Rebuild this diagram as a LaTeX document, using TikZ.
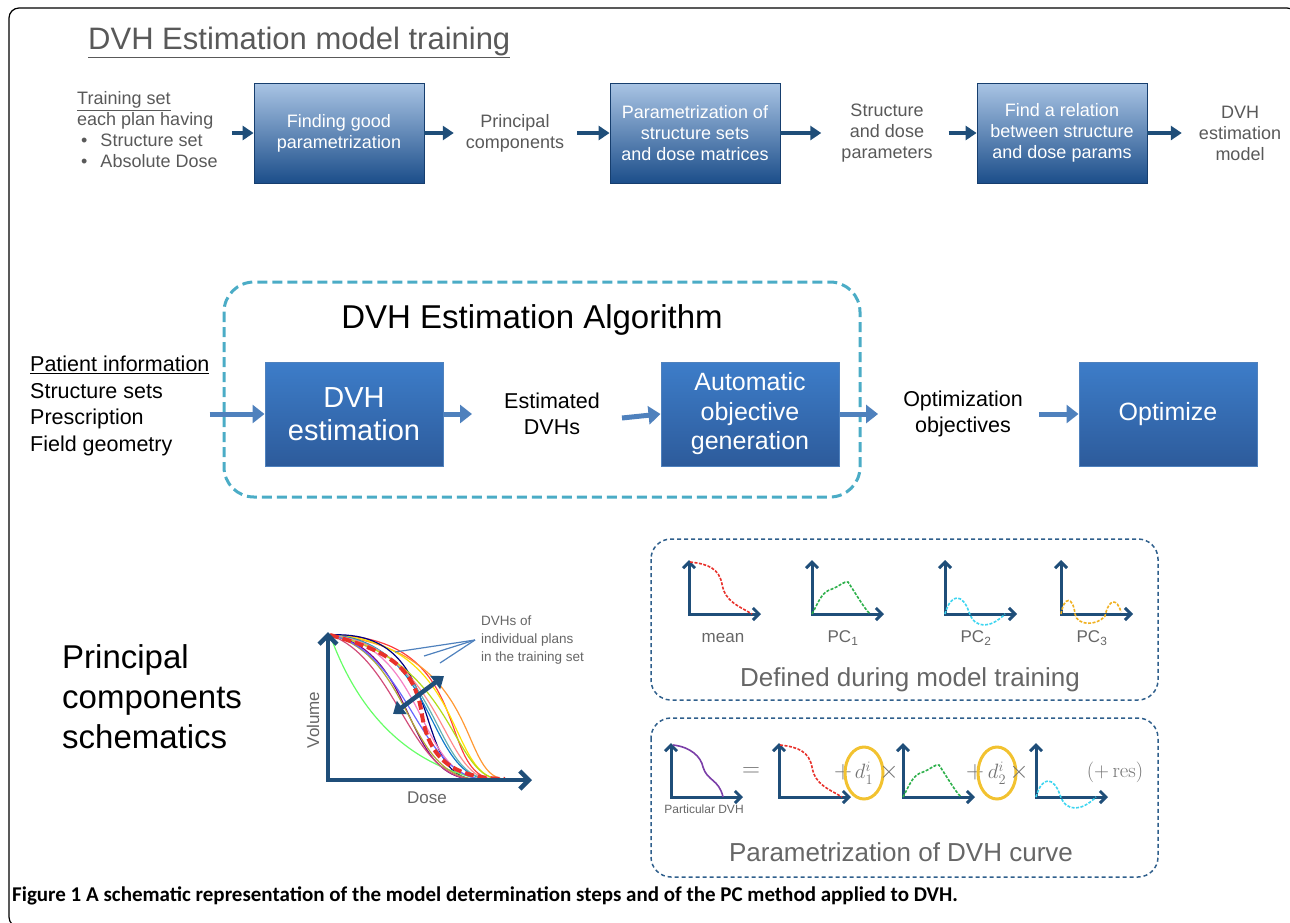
\documentclass[tikz,border=0pt]{standalone}
\usepackage[no-math]{fontspec}
\setmainfont{Liberation Sans}
\newfontfamily\capfont{Carlito}
\usetikzlibrary{arrows.meta,shapes.geometric}
\definecolor{topgray}{HTML}{595959}
\definecolor{navy}{HTML}{1F4E79}
\definecolor{toplight}{HTML}{A9C4E4}
\definecolor{topdark}{HTML}{1C4E8A}
\definecolor{midlight}{HTML}{3D7DC9}
\definecolor{middark}{HTML}{2D5B9B}
\definecolor{midblue}{HTML}{4F81BD}
\definecolor{algcyan}{HTML}{4BACC6}
\definecolor{boxdash}{HTML}{2F5F8C}
\definecolor{circyellow}{HTML}{F2C230}
\definecolor{pcred}{HTML}{E8312B}
\definecolor{pcgreen}{HTML}{2DB04B}
\definecolor{pccyan}{HTML}{3DD5F0}
\definecolor{pcorange}{HTML}{F0B020}
\definecolor{pcpurple}{HTML}{7B3FA8}
\tikzset{
  toptext/.style={text=topgray, font=\fontsize{18}{21}\selectfont, align=center, inner sep=0pt},
  topbox/.style={draw=topdark!80!black, line width=0.8pt, top color=toplight, bottom color=topdark,
    minimum width=170pt, minimum height=100pt, text=white, align=center, font=\fontsize{18}{21}\selectfont},
  toparrow/.style={navy, line width=3.5pt, -{Triangle[length=11pt,width=14pt]}},
  midtext/.style={font=\fontsize{21.5}{26.5}\selectfont, align=center, inner sep=0pt},
  midbox/.style={draw=midblue, line width=1pt, top color=midlight, bottom color=middark,
    minimum width=178pt, minimum height=104pt, text=white, align=center},
  midarrow/.style={midblue, line width=5pt, -{Triangle[length=12pt,width=18pt]}},
  pcdash/.style={boxdash, line width=1.5pt, dash pattern=on 4pt off 3pt, rounded corners=20pt},
  axis/.style={navy, line width=4.5pt, {Straight Barb[length=9pt,width=18pt]}-{Straight Barb[length=9pt,width=18pt]}},
  miniaxis/.style={navy, line width=3pt, {Straight Barb[length=6pt,width=12pt]}-{Straight Barb[length=6pt,width=12pt]}},
  minicurve/.style={line width=1.6pt, dash pattern=on 3pt off 1.5pt},
  graytext/.style={text=black!60, inner sep=0pt},
  mathsign/.style={text=black!55, inner sep=0pt, font=\fontsize{26}{26}\selectfont},
  coeff/.style={draw=circyellow, line width=3pt, ellipse, minimum width=38pt, minimum height=52pt,
    inner sep=0pt, text=black!55, font=\fontsize{22}{22}\selectfont},
}
\def\miniaxes(#1,#2){\draw[miniaxis] (#1,#2-54) -- (#1,#2) -- (#1+72,#2);}

\begin{document}
\begin{tikzpicture}[x=1pt,y=-1pt]
  %%%%% FRAME %%%%%
  \useasboundingbox (0,0) rectangle (1290,922);
  \draw[line width=1.2pt, rounded corners=10pt] (1297,927) -- (1297,8) -- (9,8) -- (9,927) -- cycle;

  %%%%% MODEL TRAINING %%%%%
  \node[text=topgray, inner sep=0pt, anchor=base west, font=\fontsize{31}{31}\selectfont] (title) at (88,49) {\underline{DVH Estimation model training}};

  \node[toptext, anchor=west, align=left] (trainset) at (77,130)
    {\underline{Training set}\\each plan having\\\hspace*{4pt}\textbullet\hspace{13pt}Structure set\\\hspace*{4pt}\textbullet\hspace{13pt}Absolute Dose};
  \node[topbox] (findparam) at (339,133) {Finding good\\parametrization};
  \node[toptext] (princomp) at (515,133) {Principal\\components};
  \node[topbox] (paramsets) at (695,133) {Parametrization of\\structure sets\\and dose matrices};
  \node[toptext] (structdose) at (887,133) {Structure\\and dose\\parameters};
  \node[topbox] (findrel) at (1062,133) {Find a relation\\between structure\\and dose params};
  \node[toptext] (dvhmodel) at (1240,133) {DVH\\estimation\\model};

  \draw[toparrow, shorten <=14pt] (trainset.east |- findparam.west) -- (findparam.west);
  \draw[toparrow, shorten >=12pt] (findparam.east) -- (princomp.west);
  \draw[toparrow, shorten <=13pt] (princomp.east) -- (paramsets.west);
  \draw[toparrow, shorten >=20pt] (paramsets.east) -- (structdose.west);
  \draw[toparrow, shorten <=16pt] (structdose.east) -- (findrel.west);
  \draw[toparrow, shorten >=17pt] (findrel.east) -- (dvhmodel.west);

  %%%%% ALGORITHM %%%%%
  \draw[algcyan, line width=3pt, dash pattern=on 10pt off 5pt, rounded corners=30pt] (224,282) rectangle (860,497);
  \node[inner sep=0pt, font=\fontsize{33}{33}\selectfont] (algtitle) at (532,320) {DVH Estimation Algorithm};

  \node[midtext, anchor=west, align=left] (patinfo) at (30,406)
    {\underline{Patient information}\\Structure sets\\Prescription\\Field geometry};
  \node[midbox, font=\fontsize{29}{33}\selectfont] (dvhest) at (354,414) {DVH\\estimation};
  \node[midtext] (estdvh) at (552,414) {Estimated\\DVHs};
  \node[midbox, font=\fontsize{25}{29.5}\selectfont] (autoobj) at (750,414) {Automatic\\objective\\generation};
  \node[midtext] (optobj) at (963,414) {Optimization\\objectives};
  \node[midbox, font=\fontsize{25}{29}\selectfont] (optimize) at (1168,414) {Optimize};

  \draw[midarrow] (dvhest.west -| patinfo.east) -- (dvhest.west);
  \draw[midarrow, shorten >=32pt] (dvhest.east) -- (estdvh.west);
  \draw[midarrow] ([xshift=22pt,yshift=-4pt]estdvh.east) -- (autoobj.west);
  \draw[midarrow, shorten >=25pt] (autoobj.east) -- (optobj.west);
  \draw[midarrow, shorten <=16pt] (optobj.east) -- (optimize.west);

  %%%%% PC SCHEMATICS %%%%%
  \node[inner sep=0pt, anchor=west, align=left, font=\fontsize{33}{40}\selectfont] (pcsch) at (62,697)
    {Principal\\components\\schematics};

  % DVH bundle
  \foreach \a/\b/\c/\d/\e/\col in {485/636/430/790/505/red!75, 490/650/455/785/510/orange!80,
      470/640/445/785/505/yellow!85!orange, 455/628/405/790/485/blue!50!black,
      440/640/425/785/495/cyan!60!blue, 420/650/400/785/480/violet,
      430/645/415/785/490/magenta!50, 350/690/390/760/480/green!60,
      415/655/405/785/485/olive!70, 445/645/430/785/495/teal!60,
      450/650/440/790/500/red!45, 460/660/450/785/505/yellow!70!green,
      410/650/420/785/490/blue!60, 400/660/410/785/480/purple!70}
    \draw[\col, line width=1.2pt] (330,635) .. controls (\a,\b) and (\c,\d) .. (\e,779);
  \draw[pcred, line width=4pt, dash pattern=on 9pt off 4pt] (330,635) .. controls (385,650) and (415,665) .. (422,715)
    .. controls (430,765) and (460,778) .. (505,779);
  \draw[axis] (328,632) -- (328,780) -- (532,780);
  \draw[navy, line width=4.5pt, {Triangle[length=11pt,width=16pt]}-{Triangle[length=11pt,width=16pt]}] (393,714) -- (444,676);
  \node[graytext, rotate=90, font=\fontsize{17}{17}\selectfont] (volume) at (313,720) {Volume};
  \node[graytext, font=\fontsize{17}{17}\selectfont] (dose) at (427,798) {Dose};
  \node[graytext, anchor=west, align=left, font=\fontsize{13.5}{18}\selectfont] (dvhlab) at (481,640)
    {DVHs of\\individual plans\\in the training set};
  \coordinate (tip1) at (395,652);
  \coordinate (tip2) at (424,656);
  \coordinate (tip3) at (440,663);
  \foreach \t in {tip1,tip2,tip3}
    \draw[midblue, line width=1.2pt] ([xshift=-6pt]dvhlab.west) -- (\t);

  % defined during model training
  \draw[pcdash] (651,539) rectangle (1158,700);
  \miniaxes(689,614)
  \miniaxes(812,614)
  \miniaxes(945,614)
  \miniaxes(1061,614)
  \begin{scope}[shift={(689,614)}]
    \draw[minicurve, pcred] (1,-52) .. controls (20,-50) and (30,-45) .. (33,-30) .. controls (36,-12) and (50,-8) .. (63,0);
  \end{scope}
  \begin{scope}[shift={(812,614)}]
    \draw[minicurve, pcgreen] (0,0) .. controls (8,-15) and (10,-22) .. (20,-25) .. controls (28,-28) and (32,-33) .. (36,-32)
      .. controls (44,-20) and (52,-6) .. (58,0);
  \end{scope}
  \begin{scope}[shift={(945,614)}]
    \draw[minicurve, pccyan] (0,0) .. controls (6,-22) and (18,-20) .. (24,-2) .. controls (30,16) and (46,14) .. (60,0);
  \end{scope}
  \begin{scope}[shift={(1061,614)}]
    \draw[minicurve, pcorange] (0,0) .. controls (3,-18) and (12,-18) .. (14,0) .. controls (16,12) and (36,12) .. (44,2)
      .. controls (48,-16) and (56,-16) .. (60,-2);
  \end{scope}
  \node[graytext, font=\fontsize{17}{17}\selectfont] (meanlab) at (723,638) {mean};
  \node[graytext, font=\fontsize{17}{17}\selectfont] (pc1lab) at (843,638) {PC\textsubscript{1}};
  \node[graytext, font=\fontsize{17}{17}\selectfont] (pc2lab) at (976,638) {PC\textsubscript{2}};
  \node[graytext, font=\fontsize{17}{17}\selectfont] (pc3lab) at (1092,638) {PC\textsubscript{3}};
  \node[graytext, font=\fontsize{26}{26}\selectfont] (deflab) at (910,680) {Defined during model training};

  % parametrization of one DVH
  \draw[pcdash] (651,718) rectangle (1158,877);
  \miniaxes(671,797)
  \miniaxes(779,797)
  \miniaxes(903,797)
  \miniaxes(1036,797)
  \begin{scope}[shift={(671,797)}]
    \draw[pcpurple, line width=1.6pt] (2,-52) .. controls (20,-50) and (30,-40) .. (32,-30) .. controls (36,-16) and (48,-18) .. (52,0);
  \end{scope}
  \begin{scope}[shift={(779,797)}]
    \draw[minicurve, pcred] (1,-52) .. controls (20,-50) and (30,-45) .. (33,-30) .. controls (36,-12) and (50,-8) .. (63,0);
  \end{scope}
  \begin{scope}[shift={(903,797)}]
    \draw[minicurve, pcgreen] (0,0) .. controls (8,-15) and (10,-22) .. (20,-25) .. controls (28,-28) and (32,-33) .. (36,-32)
      .. controls (44,-20) and (52,-6) .. (58,0);
  \end{scope}
  \begin{scope}[shift={(1036,797)}]
    \draw[minicurve, pccyan] (0,0) .. controls (6,-22) and (18,-20) .. (24,-2) .. controls (30,16) and (46,14) .. (60,0);
  \end{scope}
  \node[graytext, font=\fontsize{12}{12}\selectfont] (partlab) at (704,809) {Particular DVH};
  \node[mathsign] (eqsign) at (751,772) {$=$};
  \node[mathsign] (plus1) at (843,772) {$+$};
  \node[coeff] (dcoef1) at (864,773) {$d_1^i$};
  \node[mathsign] (times1) at (889,772) {$\times$};
  \node[mathsign] (plus2) at (975,772) {$+$};
  \node[coeff] (dcoef2) at (997,773) {$d_2^i$};
  \node[mathsign] (times2) at (1019,772) {$\times$};
  \node[mathsign, font=\fontsize{20}{20}\selectfont] (reslab) at (1115,772) {$(+\,\mathrm{res})$};
  \node[graytext, font=\fontsize{26}{26}\selectfont] (parlab) at (901,852) {Parametrization of DVH curve};

  %%%%% CAPTION %%%%%
  \node[inner sep=0pt, anchor=west, font=\capfont\bfseries\fontsize{21}{21}\selectfont] (caption) at (12,896)
    {Figure 1 A schematic representation of the model determination steps and of the PC method applied to DVH.};
\end{tikzpicture}
\end{document}
